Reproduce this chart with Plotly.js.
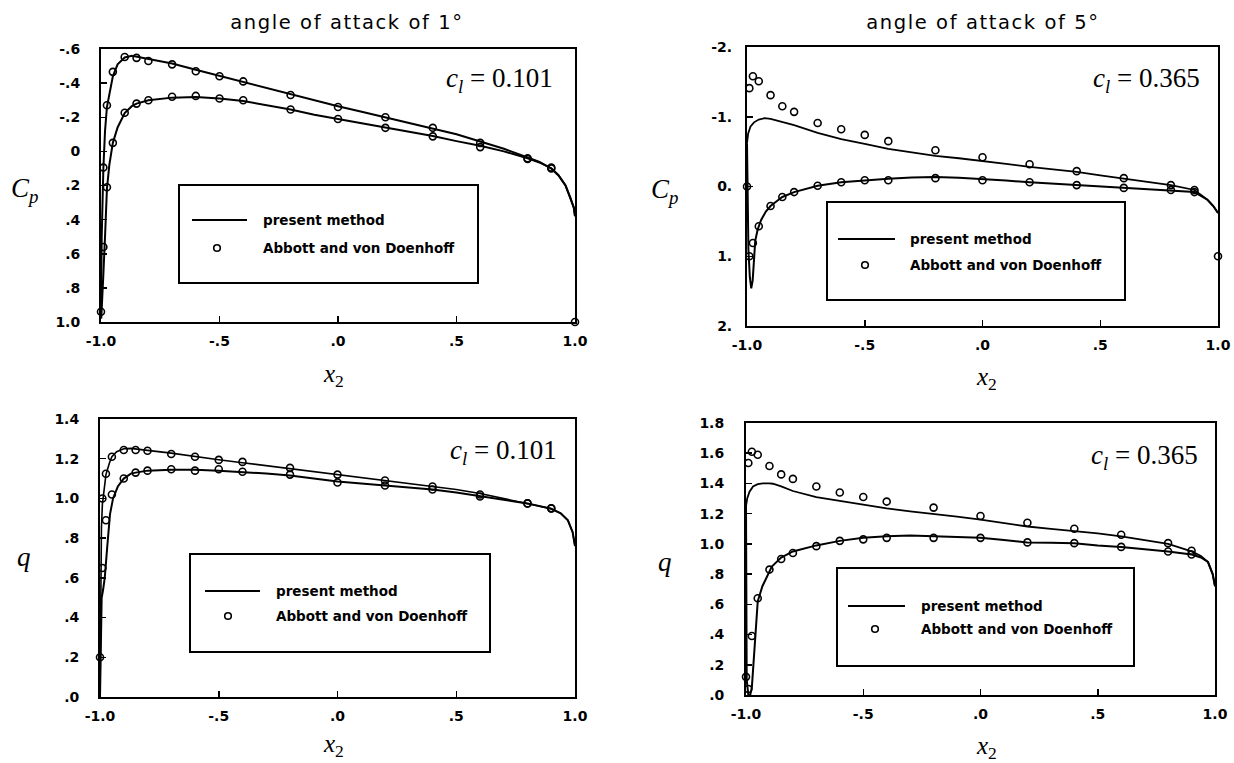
<!DOCTYPE html>
<html>
<head>
<meta charset="utf-8">
<script src="https://cdn.plot.ly/plotly-3.0.1.min.js"></script>
<style>
html,body{margin:0;padding:0;background:#fff;}
#chart{width:1234px;height:763px;}
g.annotation[data-index="0"] text, g.annotation[data-index="1"] text{letter-spacing:1.6px;}
</style>
</head>
<body>
<div id="chart"></div>
<script>
// ---------- DATA ----------
const xTickVals = [-1, -0.5, 0, 0.5, 1];
const xTickText = ["-1.0", "-.5", ".0", ".5", "1.0"];

const cp1TickVals = [-0.6, -0.4, -0.2, 0, 0.2, 0.4, 0.6, 0.8, 1.0];
const cp1TickText = ["-.6", "-.4", "-.2", "0", ".2", ".4", ".6", ".8", "1.0"];
const cp5TickVals = [-2, -1, 0, 1, 2];
const cp5TickText = ["-2.", "-1.", "0.", "1.", "2."];
const q1TickVals = [0, 0.2, 0.4, 0.6, 0.8, 1.0, 1.2, 1.4];
const q1TickText = [".0", ".2", ".4", ".6", ".8", "1.0", "1.2", "1.4"];
const q5TickVals = [0, 0.2, 0.4, 0.6, 0.8, 1.0, 1.2, 1.4, 1.6, 1.8];
const q5TickText = [".0", ".2", ".4", ".6", ".8", "1.0", "1.2", "1.4", "1.6", "1.8"];

// Panel 1: Cp, angle of attack 1 deg
const cp1UpperX = [-1.0, -0.997, -0.99, -0.983, -0.975, -0.96, -0.95, -0.93, -0.9, -0.87, -0.85, -0.8, -0.7, -0.6, -0.5, -0.4, -0.3, -0.2, -0.1, 0, 0.1, 0.2, 0.3, 0.4, 0.5, 0.6, 0.7, 0.8, 0.85, 0.9, 0.93, 0.96, 0.98, 0.995, 1.0];
const cp1UpperY = [0.95, 0.5, 0.1, -0.12, -0.26, -0.38, -0.44, -0.51, -0.55, -0.56, -0.555, -0.54, -0.515, -0.478, -0.442, -0.406, -0.37, -0.335, -0.3, -0.265, -0.232, -0.2, -0.168, -0.136, -0.1, -0.058, -0.015, 0.035, 0.062, 0.1, 0.14, 0.2, 0.27, 0.33, 0.38];
const cp1LowerX = [-0.999, -0.997, -0.99, -0.983, -0.975, -0.965, -0.95, -0.93, -0.9, -0.87, -0.85, -0.8, -0.7, -0.6, -0.5, -0.4, -0.3, -0.2, -0.1, 0, 0.1, 0.2, 0.3, 0.4, 0.5, 0.6, 0.7, 0.8, 0.85, 0.9, 0.93, 0.96, 0.98, 0.995, 1.0];
const cp1LowerY = [0.98, 0.9, 0.72, 0.5, 0.22, 0.08, -0.05, -0.14, -0.225, -0.265, -0.28, -0.3, -0.315, -0.318, -0.31, -0.295, -0.27, -0.245, -0.215, -0.19, -0.165, -0.14, -0.115, -0.09, -0.06, -0.033, 0.0, 0.04, 0.065, 0.1, 0.14, 0.2, 0.27, 0.33, 0.38];
const cp1ExpUpperX = [-1.0, -0.99, -0.975, -0.95, -0.9, -0.85, -0.8, -0.7, -0.6, -0.5, -0.4, -0.2, 0, 0.2, 0.4, 0.6, 0.8, 0.9, 1.0];
const cp1ExpUpperY = [0.94, 0.095, -0.27, -0.466, -0.553, -0.548, -0.53, -0.51, -0.47, -0.44, -0.41, -0.33, -0.26, -0.2, -0.138, -0.05, 0.04, 0.095, 1.0];
const cp1ExpLowerX = [-0.99, -0.975, -0.95, -0.9, -0.85, -0.8, -0.7, -0.6, -0.5, -0.4, -0.2, 0, 0.2, 0.4, 0.6, 0.8, 0.9];
const cp1ExpLowerY = [0.56, 0.21, -0.05, -0.226, -0.28, -0.30, -0.32, -0.325, -0.31, -0.30, -0.245, -0.19, -0.138, -0.088, -0.025, 0.045, 0.1];

// Panel 2: Cp, angle of attack 5 deg
const cp5UpperX = [-1.0, -0.995, -0.985, -0.97, -0.95, -0.925, -0.9, -0.85, -0.8, -0.7, -0.6, -0.5, -0.4, -0.3, -0.2, -0.1, 0, 0.1, 0.2, 0.3, 0.4, 0.5, 0.6, 0.7, 0.8, 0.9, 0.955, 0.98, 1.0];
const cp5UpperY = [-0.62, -0.76, -0.86, -0.92, -0.96, -0.98, -0.97, -0.93, -0.88, -0.77, -0.68, -0.61, -0.54, -0.49, -0.44, -0.405, -0.37, -0.325, -0.28, -0.245, -0.21, -0.16, -0.11, -0.065, -0.02, 0.05, 0.19, 0.28, 0.38];
const cp5LowerX = [-1.0, -0.998, -0.994, -0.988, -0.982, -0.976, -0.971, -0.965, -0.955, -0.94, -0.92, -0.9, -0.87, -0.85, -0.8, -0.75, -0.7, -0.6, -0.5, -0.4, -0.3, -0.2, -0.1, 0, 0.1, 0.2, 0.3, 0.4, 0.5, 0.6, 0.7, 0.8, 0.9, 0.955, 0.98, 1.0];
const cp5LowerY = [-0.62, 0.2, 0.9, 1.3, 1.46, 1.35, 1.0, 0.78, 0.62, 0.48, 0.36, 0.28, 0.2, 0.15, 0.08, 0.03, -0.01, -0.06, -0.09, -0.11, -0.13, -0.135, -0.125, -0.11, -0.085, -0.06, -0.04, -0.02, 0.0, 0.02, 0.035, 0.05, 0.08, 0.19, 0.28, 0.38];
const cp5ExpUpperX = [-0.99, -0.975, -0.95, -0.9, -0.85, -0.8, -0.7, -0.6, -0.5, -0.4, -0.2, 0, 0.2, 0.4, 0.6, 0.8, 0.9, 1.0];
const cp5ExpUpperY = [-1.41, -1.58, -1.51, -1.31, -1.15, -1.07, -0.91, -0.82, -0.74, -0.65, -0.52, -0.42, -0.32, -0.22, -0.12, -0.02, 0.05, 1.0];
const cp5ExpLowerX = [-1.0, -0.99, -0.975, -0.95, -0.9, -0.85, -0.8, -0.7, -0.6, -0.5, -0.4, -0.2, 0, 0.2, 0.4, 0.6, 0.8, 0.9];
const cp5ExpLowerY = [0.0, 1.0, 0.81, 0.57, 0.28, 0.15, 0.08, -0.01, -0.06, -0.09, -0.09, -0.12, -0.09, -0.06, -0.02, 0.02, 0.05, 0.08];

// Panel 3: q, angle of attack 1 deg
const q1UpperX = [-1.0, -0.999, -0.997, -0.994, -0.99, -0.983, -0.975, -0.96, -0.95, -0.93, -0.9, -0.87, -0.85, -0.8, -0.7, -0.6, -0.5, -0.4, -0.3, -0.2, -0.1, 0, 0.1, 0.2, 0.3, 0.4, 0.5, 0.6, 0.7, 0.8, 0.9, 0.94, 0.97, 0.99, 1.0];
const q1UpperY = [0.0, 0.3, 0.6, 0.85, 0.97, 1.05, 1.12, 1.18, 1.21, 1.235, 1.25, 1.252, 1.25, 1.242, 1.228, 1.21, 1.195, 1.18, 1.165, 1.15, 1.135, 1.12, 1.105, 1.09, 1.078, 1.062, 1.045, 1.025, 1.0, 0.975, 0.948, 0.925, 0.89, 0.83, 0.76];
const q1LowerX = [-1.0, -0.997, -0.993, -0.987, -0.98, -0.97, -0.958, -0.945, -0.925, -0.9, -0.87, -0.85, -0.8, -0.7, -0.6, -0.5, -0.4, -0.3, -0.2, -0.1, 0, 0.1, 0.2, 0.3, 0.4, 0.5, 0.6, 0.7, 0.8, 0.9, 0.94, 0.97, 0.99, 1.0];
const q1LowerY = [0.0, 0.3, 0.5, 0.54, 0.6, 0.75, 0.92, 1.0, 1.06, 1.1, 1.125, 1.13, 1.14, 1.145, 1.145, 1.14, 1.133, 1.125, 1.115, 1.1, 1.085, 1.075, 1.065, 1.055, 1.045, 1.03, 1.012, 0.995, 0.975, 0.948, 0.925, 0.89, 0.83, 0.76];
const q1ExpUpperX = [-1.0, -0.99, -0.975, -0.95, -0.9, -0.85, -0.8, -0.7, -0.6, -0.5, -0.4, -0.2, 0, 0.2, 0.4, 0.6, 0.8, 0.9];
const q1ExpUpperY = [0.2, 1.0, 1.124, 1.21, 1.244, 1.244, 1.24, 1.224, 1.21, 1.194, 1.184, 1.154, 1.12, 1.09, 1.06, 1.02, 0.975, 0.95];
const q1ExpLowerX = [-0.99, -0.975, -0.95, -0.9, -0.85, -0.8, -0.7, -0.6, -0.5, -0.4, -0.2, 0, 0.2, 0.4, 0.6, 0.8, 0.9];
const q1ExpLowerY = [0.65, 0.89, 1.02, 1.10, 1.13, 1.14, 1.147, 1.14, 1.147, 1.134, 1.12, 1.08, 1.065, 1.045, 1.01, 0.975, 0.95];

// Panel 4: q, angle of attack 5 deg
const q5UpperX = [-1.0, -0.995, -0.985, -0.97, -0.95, -0.928, -0.9, -0.885, -0.85, -0.8, -0.7, -0.6, -0.5, -0.4, -0.3, -0.2, -0.1, 0, 0.1, 0.2, 0.3, 0.4, 0.5, 0.6, 0.7, 0.8, 0.9, 0.94, 0.97, 0.99, 1.0];
const q5UpperY = [1.25, 1.3, 1.345, 1.38, 1.395, 1.40, 1.40, 1.398, 1.38, 1.35, 1.31, 1.285, 1.26, 1.235, 1.215, 1.2, 1.18, 1.16, 1.138, 1.115, 1.1, 1.085, 1.07, 1.05, 1.025, 1.0, 0.95, 0.92, 0.88, 0.8, 0.72];
const q5LowerX = [-1.0, -0.999, -0.997, -0.99, -0.982, -0.975, -0.968, -0.962, -0.95, -0.93, -0.91, -0.89, -0.85, -0.8, -0.7, -0.6, -0.5, -0.4, -0.3, -0.2, -0.1, 0, 0.1, 0.2, 0.3, 0.4, 0.5, 0.6, 0.7, 0.8, 0.9, 0.94, 0.97, 0.99, 1.0];
const q5LowerY = [1.25, 0.6, 0.1, 0.0, 0.0, 0.05, 0.2, 0.32, 0.62, 0.72, 0.78, 0.85, 0.91, 0.95, 0.99, 1.02, 1.04, 1.05, 1.055, 1.05, 1.045, 1.04, 1.025, 1.01, 1.008, 1.005, 0.99, 0.98, 0.965, 0.95, 0.93, 0.91, 0.88, 0.8, 0.72];
const q5ExpUpperX = [-0.99, -0.975, -0.95, -0.9, -0.85, -0.8, -0.7, -0.6, -0.5, -0.4, -0.2, 0, 0.2, 0.4, 0.6, 0.8, 0.9];
const q5ExpUpperY = [1.535, 1.61, 1.59, 1.515, 1.46, 1.43, 1.38, 1.34, 1.31, 1.28, 1.24, 1.185, 1.14, 1.10, 1.06, 1.005, 0.955];
const q5ExpLowerX = [-1.0, -0.99, -0.975, -0.95, -0.9, -0.85, -0.8, -0.7, -0.6, -0.5, -0.4, -0.2, 0, 0.2, 0.4, 0.6, 0.8, 0.9];
const q5ExpLowerY = [0.12, 0.04, 0.39, 0.64, 0.83, 0.90, 0.94, 0.985, 1.02, 1.03, 1.04, 1.04, 1.04, 1.01, 1.005, 0.98, 0.95, 0.93];

const titles = ["angle of attack of 1°", "angle of attack of 5°"];
const clLabels = ["0.101", "0.365", "0.101", "0.365"];
const legendNames = ["present method", "Abbott and von Doenhoff"];

// ---------- RENDER ----------
const W = 1234, H = 763;
const px = v => v / W;
const py = v => 1 - v / H;

function lineTrace(x, y, ax, w) {
  return {x: x, y: y, xaxis: 'x' + ax, yaxis: 'y' + ax, type: 'scatter', mode: 'lines',
    line: {color: '#000', width: w || 2, shape: 'linear'}, showlegend: false, hoverinfo: 'skip', cliponaxis: false, name: legendNames[0]};
}
function expTrace(x, y, ax) {
  return {x: x, y: y, xaxis: 'x' + ax, yaxis: 'y' + ax, type: 'scatter', mode: 'markers',
    marker: {symbol: 'circle-open', size: 7, color: '#000', line: {width: 1.6, color: '#000'}},
    showlegend: false, cliponaxis: false, name: legendNames[1]};
}

const traces = [
  lineTrace(cp1UpperX, cp1UpperY, ''), lineTrace(cp1LowerX, cp1LowerY, ''),
  expTrace(cp1ExpUpperX, cp1ExpUpperY, ''), expTrace(cp1ExpLowerX, cp1ExpLowerY, ''),
  lineTrace(cp5UpperX, cp5UpperY, '2', 1.8), lineTrace(cp5LowerX, cp5LowerY, '2', 2),
  expTrace(cp5ExpUpperX, cp5ExpUpperY, '2'), expTrace(cp5ExpLowerX, cp5ExpLowerY, '2'),
  lineTrace(q1UpperX, q1UpperY, '3', 1.6), lineTrace(q1LowerX, q1LowerY, '3', 2),
  expTrace(q1ExpUpperX, q1ExpUpperY, '3'), expTrace(q1ExpLowerX, q1ExpLowerY, '3'),
  lineTrace(q5UpperX, q5UpperY, '4', 1.8), lineTrace(q5LowerX, q5LowerY, '4', 2),
  expTrace(q5ExpUpperX, q5ExpUpperY, '4'), expTrace(q5ExpLowerX, q5ExpLowerY, '4')
];

const tickFont = {family: 'DejaVu Sans', size: 14, color: '#000', weight: 'bold'};
function xAxis(l, r, anchor) {
  return {domain: [px(l), px(r)], anchor: anchor, range: [-1, 1], tickmode: 'array', tickvals: xTickVals, ticktext: xTickText,
    ticks: 'inside', ticklen: 6, tickwidth: 1.5, tickcolor: '#000', showline: true, linecolor: '#000', linewidth: 2, mirror: true,
    showgrid: false, zeroline: false, tickfont: tickFont, ticklabelstandoff: 5, fixedrange: true};
}
function yAxis(top, bot, anchor, range, vals, text, standoff) {
  return {domain: [py(bot), py(top)], anchor: anchor, range: range, tickmode: 'array', tickvals: vals, ticktext: text,
    ticks: 'inside', ticklen: 6, tickwidth: 1.5, tickcolor: '#000', showline: true, linecolor: '#000', linewidth: 2, mirror: true,
    showgrid: false, zeroline: false, tickfont: tickFont, ticklabelstandoff: standoff, fixedrange: true};
}

const annotations = [];
const shapes = [];
function txt(x, y, text, size, family, xanchor, extra) {
  annotations.push(Object.assign({xref: 'paper', yref: 'paper', x: px(x), y: py(y), text: text, showarrow: false,
    xanchor: xanchor || 'center', yanchor: 'middle', font: {family: family, size: size, color: '#000'}}, extra || {}));
}
// titles (letter-spaced via CSS)
txt(245, 23, titles[0], 19.5, 'DejaVu Sans', 'left');
txt(881, 23, titles[1], 19.5, 'DejaVu Sans', 'left');
// y labels
const serif = 'Liberation Serif';
txt(24, 190, '<i>C<sub>p</sub></i>', 27, serif);
txt(664, 191, '<i>C<sub>p</sub></i>', 27, serif);
txt(24, 557, '<i>q</i>', 27, serif);
txt(665, 562, '<i>q</i>', 27, serif);
// x labels
txt(333, 375, '<i>x</i><sub>2</sub>', 25, serif);
txt(987, 378, '<i>x</i><sub>2</sub>', 25, serif);
txt(333, 745, '<i>x</i><sub>2</sub>', 25, serif);
txt(987, 747, '<i>x</i><sub>2</sub>', 25, serif);
// cl labels
txt(555, 80, '<i>c<sub>l</sub></i> = ' + clLabels[0], 27, serif, 'right');
txt(1202, 80, '<i>c<sub>l</sub></i> = ' + clLabels[1], 27, serif, 'right');
txt(559, 452, '<i>c<sub>l</sub></i> = ' + clLabels[2], 27, serif, 'right');
txt(1200, 457, '<i>c<sub>l</sub></i> = ' + clLabels[3], 27, serif, 'right');

// legends (one boxed key per panel)
function legendBox(l, t, r, b, lx0, lx1, ly, cx, cy, tx) {
  shapes.push({type: 'rect', xref: 'paper', yref: 'paper', x0: px(l), x1: px(r), y0: py(b), y1: py(t), line: {color: '#000', width: 2}, fillcolor: 'rgba(0,0,0,0)'});
  shapes.push({type: 'line', xref: 'paper', yref: 'paper', x0: px(lx0), x1: px(lx1), y0: py(ly), y1: py(ly), line: {color: '#000', width: 2}});
  shapes.push({type: 'circle', xref: 'paper', yref: 'paper', x0: px(cx - 3.3), x1: px(cx + 3.3), y0: py(cy + 3.3), y1: py(cy - 3.3), line: {color: '#000', width: 1.6}});
  const lf = {family: 'DejaVu Sans', size: 13.5, color: '#000', weight: 'bold'};
  annotations.push({xref: 'paper', yref: 'paper', x: px(tx), y: py(ly), text: legendNames[0], showarrow: false, xanchor: 'left', yanchor: 'middle', font: lf});
  annotations.push({xref: 'paper', yref: 'paper', x: px(tx), y: py(cy), text: legendNames[1], showarrow: false, xanchor: 'left', yanchor: 'middle', font: lf});
}
legendBox(179, 185, 478, 283, 192, 247, 220, 217, 248, 261);
legendBox(827, 202, 1125, 300, 838, 895, 239, 865, 265, 908);
legendBox(190, 554, 490, 652, 205, 260, 591, 228, 616, 274);
legendBox(837, 568, 1134, 666, 848, 905, 606, 875, 629, 919);

const layout = {
  width: W, height: H, margin: {l: 0, r: 0, t: 0, b: 0}, paper_bgcolor: '#fff', plot_bgcolor: '#fff', showlegend: false,
  xaxis: xAxis(101, 575, 'y'),
  yaxis: yAxis(49, 322, 'x', [1.0, -0.6], cp1TickVals, cp1TickText, 16),
  xaxis2: xAxis(747, 1218, 'y2'),
  yaxis2: yAxis(47, 326, 'x2', [2, -2], cp5TickVals, cp5TickText, 10),
  xaxis3: xAxis(100, 575, 'y3'),
  yaxis3: yAxis(419, 697, 'x3', [0, 1.4], q1TickVals, q1TickText, 16),
  xaxis4: xAxis(746, 1215, 'y4'),
  yaxis4: yAxis(423, 695, 'x4', [0, 1.8], q5TickVals, q5TickText, 17),
  annotations: annotations, shapes: shapes
};

Plotly.newPlot('chart', traces, layout, {staticPlot: true, displayModeBar: false});
</script>
</body>
</html>
